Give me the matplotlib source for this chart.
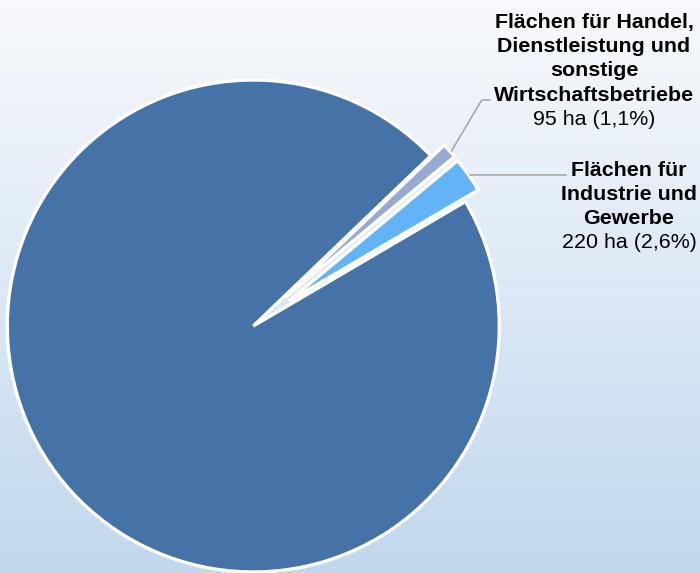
import matplotlib
matplotlib.use("Agg")
import matplotlib.pyplot as plt
import numpy as np

# ---- data ----
categories = ["Flächen für Industrie und Gewerbe",
              "Flächen für Handel, Dienstleistung und sonstige Wirtschaftsbetriebe",
              "Übrige Flächen"]
values_ha = [220, 95, 8150]
percent_labels = ["2,6%", "1,1%", None]
label_lines = [["Flächen für", "Industrie und", "Gewerbe"],
               ["Flächen für Handel,", "Dienstleistung und", "sonstige", "Wirtschaftsbetriebe"],
               None]
colors = ["#63B4F6", "#97AAD2", "#4673A7"]

# ---- layout (pixels) ----
W, H = 700, 573
cx, cy, R = 253.3, 326.0, 246.0

def px(x, y):
    return (x - cx) / R, (cy - y) / R

fig = plt.figure(figsize=(7, 5.73), dpi=100)
bg = fig.add_axes([0, 0, 1, 1])
bg.axis("off")
grad = np.linspace(0, 1, 256)[:, None, None]
top = np.array([0.972, 0.977, 0.99])
bottom = np.array([0.755, 0.847, 0.933])
img = top + (bottom - top) * grad
bg.imshow(img, aspect="auto", extent=[0, 1, 0, 1])

ax = fig.add_axes([0, 0, 1, 1])
ax.patch.set_visible(False)
wedges, _ = ax.pie(values_ha, colors=colors, startangle=30.4,
                   explode=[0.175, 0.175, 0], counterclock=True,
                   wedgeprops=dict(edgecolor="white", linewidth=2.4, joinstyle="miter"))
wedges[0].set_radius(0.894)
wedges[1].set_radius(0.894)
ax.set_aspect("auto")
ax.set_xlim(-cx / R, (W - cx) / R)
ax.set_ylim(-(H - cy) / R, cy / R)
ax.axis("off")

# leader lines
lc = "#A3A3A3"
p = [px(451.5, 151), px(481.7, 100), px(490, 100)]
ax.plot([q[0] for q in p], [q[1] for q in p], color=lc, lw=1.1)
p = [px(470, 175), px(566, 175)]
ax.plot([q[0] for q in p], [q[1] for q in p], color=lc, lw=1.1)

# labels
font = "Liberation Sans"
fs = 15.4
label_pos = [(629, 175.7), (594, 28.3)]  # center x, first baseline (px)
step = 24.1
for i in range(2):
    x0, y0 = label_pos[i]
    lines = label_lines[i]
    for k, line in enumerate(lines):
        xd, yd = px(x0, y0 + k * step)
        ax.text(xd, yd, line, ha="center", va="baseline", fontsize=fs,
                fontweight="bold", family=font, color="black")
    xd, yd = px(x0, y0 + len(lines) * step)
    ax.text(xd, yd, f"{values_ha[i]} ha ({percent_labels[i]})", ha="center",
            va="baseline", fontsize=fs, family=font, color="black")

fig.savefig("out.png", dpi=100)
